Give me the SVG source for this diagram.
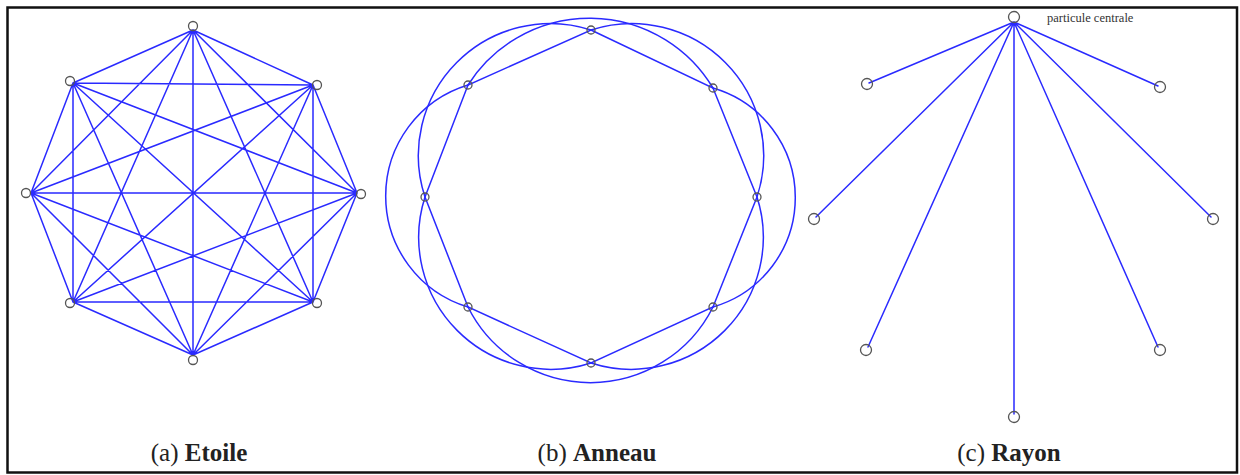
<svg xmlns="http://www.w3.org/2000/svg" width="1240" height="475" viewBox="0 0 1240 475">
<style>
.e{stroke:#2a2aff;stroke-width:1.5;fill:none;stroke-linecap:round}
.n{fill:none;stroke:#555;stroke-width:1.3}
.cap{font-family:"Liberation Serif","Times New Roman",serif;font-size:25px;fill:#222}
.lbl{font-family:"Liberation Serif","Times New Roman",serif;font-size:12.5px;fill:#333}
</style>
<rect x="0" y="0" width="1240" height="475" fill="#fff"/>
<rect x="7.5" y="7.5" width="1229.5" height="465" fill="none" stroke="#111" stroke-width="2.5"/>

<g id="connectors">
  <g id="conn-etoile" class="e">
    <path d="M193,30L313,85M193,30L357,193M193,30L313,302M193,30L193,355M193,30L73,302M193,30L31,193M193,30L73,83
             M313,85L357,193M313,85L313,302M313,85L193,355M313,85L73,302M313,85L31,193M313,85L73,83
             M357,193L313,302M357,193L193,355M357,193L73,302M357,193L31,193M357,193L73,83
             M313,302L193,355M313,302L73,302M313,302L31,193M313,302L73,83
             M193,355L73,302M193,355L31,193M193,355L73,83
             M73,302L31,193M73,302L73,83
             M31,193L73,83"/>
  </g>
  <g id="conn-anneau" class="e">
    <path d="M591,30L713,88L757,197L713,307L591,363L468,307L425,197L468,85Z"/>
    <path d="M591,30A132,132 0 0 1 757,197"/>
    <path d="M713,88A114,114 0 0 1 713,307"/>
    <path d="M757,197A132,132 0 0 1 591,363"/>
    <path d="M713,307A137,137 0 0 1 468,307"/>
    <path d="M591,363A132,132 0 0 1 425,197"/>
    <path d="M468,307A116,116 0 0 1 468,85"/>
    <path d="M425,197A132,132 0 0 1 591,30"/>
    <path d="M468,85A144,144 0 0 1 713,88"/>
  </g>
  <g id="conn-rayon" class="e">
    <path d="M1014,22L869,83M1014,22L1158,86M1014,22L816,217M1014,22L1211,217M1014,22L868,347M1014,22L1158,347M1014,22L1014,414"/>
  </g>
</g>

<g id="etoile">
  <circle id="a0" class="n" cx="193" cy="26" r="4.5"/>
  <circle id="a1" class="n" cx="317" cy="85" r="4.5"/>
  <circle id="a2" class="n" cx="361" cy="194" r="4.5"/>
  <circle id="a3" class="n" cx="317" cy="303" r="4.5"/>
  <circle id="a4" class="n" cx="193" cy="360" r="4.5"/>
  <circle id="a5" class="n" cx="70" cy="303" r="4.5"/>
  <circle id="a6" class="n" cx="26" cy="193" r="4.5"/>
  <circle id="a7" class="n" cx="70" cy="81" r="4.5"/>
</g>

<g id="anneau">
  <circle id="b0" class="n" cx="591" cy="30" r="4"/>
  <circle id="b1" class="n" cx="713" cy="88" r="4"/>
  <circle id="b2" class="n" cx="757" cy="197" r="4"/>
  <circle id="b3" class="n" cx="713" cy="307" r="4"/>
  <circle id="b4" class="n" cx="591" cy="363" r="4"/>
  <circle id="b5" class="n" cx="468" cy="307" r="4"/>
  <circle id="b6" class="n" cx="425" cy="197" r="4"/>
  <circle id="b7" class="n" cx="468" cy="85" r="4"/>
</g>

<g id="rayon">
  <circle id="c0" class="n" cx="1014" cy="17" r="5.5"/>
  <circle id="c1" class="n" cx="867" cy="84" r="5.5"/>
  <circle id="c2" class="n" cx="1160" cy="87" r="5.5"/>
  <circle id="c3" class="n" cx="814" cy="219" r="5.5"/>
  <circle id="c4" class="n" cx="1213" cy="219" r="5.5"/>
  <circle id="c5" class="n" cx="866" cy="350" r="5.5"/>
  <circle id="c6" class="n" cx="1160" cy="350" r="5.5"/>
  <circle id="c7" class="n" cx="1014" cy="417" r="5.5"/>
  <text class="lbl" x="1047" y="22">particule centrale</text>
</g>

<g id="captions">
  <text class="cap" x="199" y="461" text-anchor="middle">(a) <tspan font-weight="bold">Etoile</tspan></text>
  <text class="cap" x="597" y="461" text-anchor="middle">(b) <tspan font-weight="bold">Anneau</tspan></text>
  <text class="cap" x="1009" y="461" text-anchor="middle">(c) <tspan font-weight="bold">Rayon</tspan></text>
</g>
</svg>
